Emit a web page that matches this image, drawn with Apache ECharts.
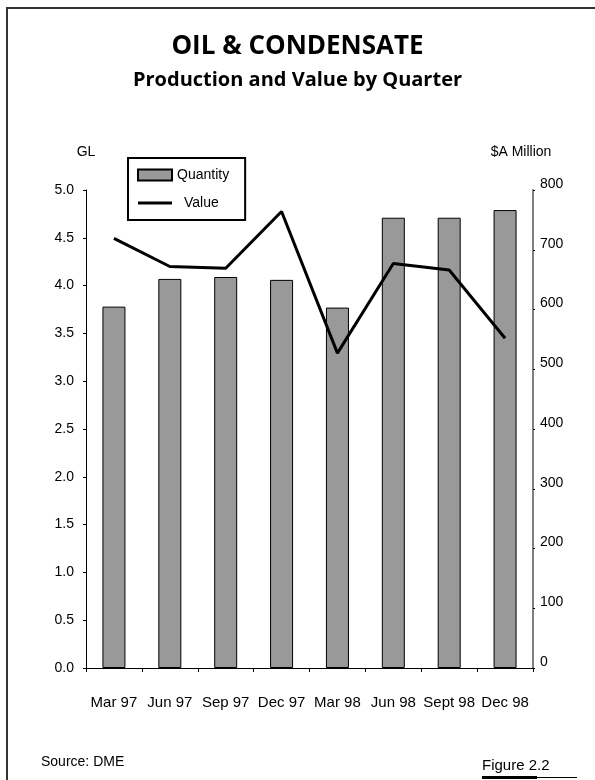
<!DOCTYPE html>
<html><head><meta charset="utf-8">
<script src="https://cdn.jsdelivr.net/npm/echarts@6/dist/echarts.min.js"></script>
<style>html,body{margin:0;padding:0;background:#fff}#c{width:595px;height:780px}</style>
</head><body><div id="c"></div>
<script>
const categories = ['Mar 97','Jun 97','Sep 97','Dec 97','Mar 98','Jun 98','Sept 98','Dec 98'];
const quantityGL = [3.78, 4.07, 4.09, 4.06, 3.77, 4.71, 4.71, 4.79];
const valueAUDm = [719, 672, 669, 764, 527, 677, 666, 552];
const leftTicks = {min: 0, max: 5, interval: 0.5};
const rightTicks = {min: 0, max: 800, interval: 100};

const chart = echarts.init(document.getElementById('c'), null, {renderer: 'canvas'});
const txt = 'Liberation Sans, Arial, sans-serif';
const head = 'Open Sans, Noto Sans, sans-serif';
chart.setOption({
  backgroundColor: '#fff',
  animation: false,
  title: [
    {text: 'OIL & CONDENSATE', left: 'center', top: 29,
     textStyle: {fontFamily: head, fontWeight: 'bold', fontSize: 26, color: '#000'}},
    {text: 'Production and Value by Quarter', left: 'center', top: 65,
     textStyle: {fontFamily: head, fontWeight: 'bold', fontSize: 20, color: '#000'}}
  ],
  legend: {
    orient: 'vertical', left: 128, top: 158,
    padding: [10, 16, 10, 9], itemGap: 14,
    itemWidth: 34, itemHeight: 11,
    symbolKeepAspect: true,
    borderColor: '#000', borderWidth: 2, borderRadius: 0,
    textStyle: {fontFamily: txt, fontSize: 14, color: '#000'},
    data: [
      {name: 'Quantity', icon: 'rect', itemStyle: {color: '#999999', borderColor: '#000', borderWidth: 2}},
      {name: 'Value', icon: 'path://M0,0 L34,0 L34,3 L0,3 Z', itemStyle: {color: '#000'},
       textStyle: {padding: [0, 0, 0, 7]}}
    ]
  },
  grid: {left: 86, right: 62, top: 190, bottom: 112, containLabel: false},
  xAxis: {
    type: 'category', data: categories,
    axisLine: {lineStyle: {color: '#000', width: 1}},
    axisTick: {show: true, length: 4, lineStyle: {color: '#000'}},
    axisLabel: {margin: 27, fontFamily: txt, fontSize: 15, color: '#000', interval: 0}
  },
  yAxis: [
    {type: 'value', min: leftTicks.min, max: leftTicks.max, interval: leftTicks.interval,
     name: 'GL', nameLocation: 'end', nameGap: 31,
     nameTextStyle: {fontFamily: txt, fontSize: 14, color: '#000', align: 'center'},
     axisLine: {show: true, lineStyle: {color: '#000', width: 1}},
     axisTick: {show: true, length: 3, lineStyle: {color: '#000'}},
     axisLabel: {margin: 12, fontFamily: txt, fontSize: 14, color: '#000', formatter: v => v.toFixed(1)},
     splitLine: {show: false}},
    {type: 'value', min: rightTicks.min, max: rightTicks.max, interval: rightTicks.interval,
     position: 'right',
     name: '$A Million', nameLocation: 'end', nameGap: 31,
     nameTextStyle: {fontFamily: txt, fontSize: 14, color: '#000', align: 'center', padding: [0, 0, 0, -24]},
     axisLine: {show: true, lineStyle: {color: '#808080', width: 2}},
     axisTick: {show: true, length: 2, lineStyle: {color: '#000'}},
     axisLabel: {margin: 7, fontFamily: txt, fontSize: 14, color: '#000', verticalAlign: 'bottom', lineHeight: 12},
     splitLine: {show: false}}
  ],
  series: [
    {name: 'Quantity', type: 'bar', yAxisIndex: 0, data: quantityGL, barWidth: 23,
     itemStyle: {color: '#999999', borderColor: '#000', borderWidth: 1}},
    {name: 'Value', type: 'line', yAxisIndex: 1, data: valueAUDm, symbol: 'none',
     lineStyle: {color: '#000', width: 3}, itemStyle: {color: '#000'}}
  ],
  graphic: [
    {type: 'rect', shape: {x: 7, y: 8, width: 700, height: 900}, style: {fill: 'none', stroke: '#333', lineWidth: 2}, silent: true},
    {type: 'text', left: 41, top: 755, style: {text: 'Source: DME', font: '14px ' + txt, fill: '#000'}},
    {type: 'text', left: 482, top: 758, style: {text: 'Figure 2.2', font: '15px ' + txt, fill: '#000'}},
    {type: 'rect', shape: {x: 482, y: 776, width: 55, height: 3}, style: {fill: '#000'}},
    {type: 'rect', shape: {x: 537, y: 777, width: 40, height: 1}, style: {fill: '#000'}}
  ]
});
</script></body></html>
